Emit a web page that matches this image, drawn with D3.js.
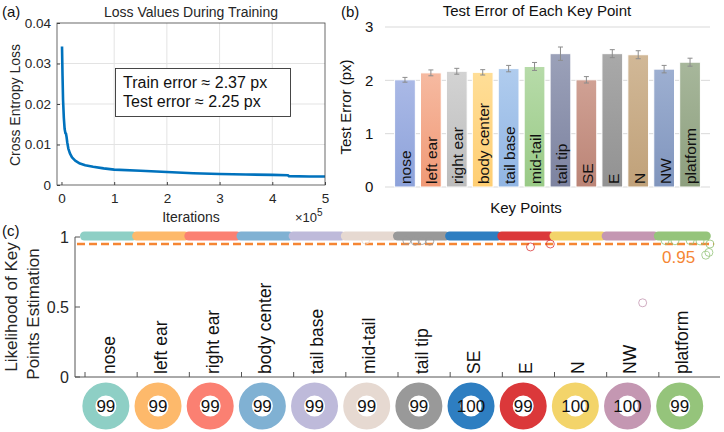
<!DOCTYPE html>
<html><head><meta charset="utf-8">
<script src="https://cdn.jsdelivr.net/npm/d3@7"></script>
<style>body{margin:0;background:#fff}svg{display:block}text{font-family:"Liberation Sans",Arial,sans-serif}</style>
</head><body>
<svg id="c" width="724" height="432"></svg>
<script>
// ---------- data ----------
const lossIter = [1000,2000,3000,4500,6000,7500,8500,9500,11000,13000,16000,20000,26000,35000,45000,60000,80000,100000,150000,200000,250000,300000,350000,400000,430000,431000,470000,500000];
const lossVal  = [0.0342,0.027,0.021,0.0165,0.0138,0.0128,0.0127,0.0120,0.0105,0.0090,0.0078,0.0068,0.0060,0.0053,0.0049,0.0045,0.0041,0.0038,0.0035,0.0032,0.0029,0.0027,0.0026,0.0025,0.0024,0.0022,0.0021,0.0021];
const lossXTicks = [0,100000,200000,300000,400000,500000];
const lossXTickLabels = ["0","1","2","3","4","5"];
const lossYTicks = [0,0.01,0.02,0.03,0.04];
const lossYTickLabels = ["0","0.01","0.02","0.03","0.04"];
const trainErrorText = "Train error \u2248 2.37 px";
const testErrorText = "Test error \u2248 2.25 px";

const keyPoints = ["nose","left ear","right ear","body center","tail base","mid-tail","tail tip","SE","E","N","NW","platform"];
const testError = [2.01,2.14,2.17,2.15,2.22,2.26,2.50,2.01,2.50,2.48,2.21,2.34];
const testErrorSE = [0.045,0.055,0.055,0.05,0.06,0.075,0.125,0.06,0.075,0.075,0.07,0.075];
const errYTicks = [0,1,2,3];

const likelihood = [1,1,1,1,1,1,1,1,1,1,1,1];
const accuracyPct = [99,99,99,99,99,99,99,100,99,100,100,99];
const threshold = 0.95;
const likeYTicks = [0,0.5,1];
const likeYTickLabels = ["0","0.5","1"];
const outlierCat = ["mid-tail","tail tip","tail tip","tail tip","tail tip","E","E","NW","platform","platform","platform","platform","platform","platform","platform"];
const outlierPos = [0.38,0.17,0.33,0.46,0.61,0.54,0.92,0.69,0.98,0.96,0.90,0.12,0.31,0.60,0.79];
const outlierVal = [0.978,0.975,0.97,0.975,0.97,0.929,0.95,0.53,0.95,0.89,0.87,0.975,0.973,0.975,0.972];

// ---------- styles ----------
const barTop    = ["#AAB9E6","#F6BAA1","#D3D3D3","#FFDE97","#B0CCEE","#B7DBA9","#9BA1B9","#D0A194","#A9A9A9","#D1B897","#9DAFD1","#A7B79B"];
const barBottom = ["#8DA2DA","#F09976","#BCBCBC","#FFCE72","#91B5E3","#99CA86","#7D83A0","#BB8476","#929292","#C0A179","#8095BD","#8D9F7E"];
const catColor  = ["#8ECFC5","#FDB96B","#FB8072","#80B1D3","#BEBADA","#E6D9D1","#999999","#2E7EC1","#DB383A","#F3D46A","#C497B2","#95C47B"];
const ink = "#262626";

const svg = d3.select("#c");

// ================= Panel (a) =================
const ax = d3.scaleLinear().domain([-8500,500000]).range([57,325]);
const ay = d3.scaleLinear().domain([0,0.04]).range([185,23]);
const ga = svg.append("g");
ga.selectAll(".gx").data(lossXTicks.slice(1,-1)).join("line")
  .attr("x1",d=>ax(d)).attr("x2",d=>ax(d)).attr("y1",ay(0)).attr("y2",ay(0.04))
  .attr("stroke","#E3E3E3").attr("stroke-width",1);
ga.selectAll(".gy").data(lossYTicks.slice(1,-1)).join("line")
  .attr("x1",57).attr("x2",325).attr("y1",d=>ay(d)).attr("y2",d=>ay(d))
  .attr("stroke","#E3E3E3").attr("stroke-width",1);
ga.append("path").datum(lossIter.map((d,i)=>[d,lossVal[i]]))
  .attr("d",d3.line().x(d=>ax(d[0])).y(d=>ay(d[1])))
  .attr("fill","none").attr("stroke","#0072BD").attr("stroke-width",2.6).attr("stroke-linejoin","round");
ga.append("rect").attr("x",57).attr("y",23).attr("width",268).attr("height",162)
  .attr("fill","none").attr("stroke","#444").attr("stroke-width",0.8);
const axB = ga.append("g").attr("transform","translate(0,185)")
  .call(d3.axisBottom(ax).tickValues(lossXTicks).tickFormat((d,i)=>lossXTickLabels[i]).tickSizeInner(-3).tickSizeOuter(0).tickPadding(8));
const axL = ga.append("g").attr("transform","translate(57,0)")
  .call(d3.axisLeft(ay).tickValues(lossYTicks).tickFormat((d,i)=>lossYTickLabels[i]).tickSizeInner(-3).tickSizeOuter(0).tickPadding(6));
[axB,axL].forEach(g=>{g.select(".domain").remove();g.selectAll("line").attr("stroke","#444");
  g.selectAll("text").attr("fill",ink).style("font-size","13.5px").style("font-family","Liberation Sans");});
ga.append("text").attr("x",191).attr("y",17).attr("text-anchor","middle").attr("fill",ink).style("font-size","14px").text("Loss Values During Training");
ga.append("text").attr("transform","translate(20,105) rotate(-90)").attr("text-anchor","middle").attr("fill",ink).style("font-size","14px").text("Cross Entropy Loss");
ga.append("text").attr("x",191).attr("y",222).attr("text-anchor","middle").attr("fill",ink).style("font-size","14px").text("Iterations");
const sx = ga.append("text").attr("x",295).attr("y",222).attr("fill",ink).style("font-size","13px");
sx.append("tspan").text("\u00d710");
sx.append("tspan").attr("dy",-6).style("font-size","10px").text("5");
ga.append("rect").attr("x",115.5).attr("y",68.5).attr("width",175).attr("height",48).attr("fill","#fff").attr("stroke","#333").attr("stroke-width",0.9);
ga.append("text").attr("x",123).attr("y",88).attr("fill","#111").style("font-size","16px").text(trainErrorText);
ga.append("text").attr("x",123).attr("y",107).attr("fill","#111").style("font-size","16px").text(testErrorText);
svg.append("text").attr("x",2).attr("y",17).attr("fill","#111").style("font-size","15px").text("(a)");

// ================= Panel (b) =================
const bx = d3.scaleBand().domain(keyPoints).range([392,703]).paddingInner(0.2).paddingOuter(0.1);
const by = d3.scaleLinear().domain([0,3]).range([187,27]);
const gb = svg.append("g");
const defs = svg.append("defs");
keyPoints.forEach((k,i)=>{
  const lg = defs.append("linearGradient").attr("id","bg"+i).attr("x1",0).attr("x2",0).attr("y1",0).attr("y2",1);
  lg.append("stop").attr("offset","0%").attr("stop-color",barTop[i]);
  lg.append("stop").attr("offset","100%").attr("stop-color",barBottom[i]);
});
gb.selectAll(".grid").data(errYTicks).join("line")
  .attr("x1",385).attr("x2",710).attr("y1",d=>by(d)).attr("y2",d=>by(d)).attr("stroke","#D9D9D9").attr("stroke-width",1);
gb.selectAll(".ytl").data(errYTicks).join("text")
  .attr("x",365).attr("y",d=>by(d)).attr("dy","0.35em").attr("fill","#111").style("font-size","15px").text(d=>d);
gb.selectAll(".bar").data(keyPoints).join("rect")
  .attr("x",d=>bx(d)).attr("width",bx.bandwidth())
  .attr("y",(d,i)=>by(testError[i])).attr("height",(d,i)=>by(0)-by(testError[i]))
  .attr("fill",(d,i)=>`url(#bg${i})`).attr("stroke","#fff").attr("stroke-width",1);
const eb = gb.selectAll(".eb").data(keyPoints).join("g").attr("stroke","#8C8C8C").attr("stroke-width",1);
eb.append("line").attr("x1",d=>bx(d)+bx.bandwidth()/2).attr("x2",d=>bx(d)+bx.bandwidth()/2)
  .attr("y1",(d,i)=>by(testError[i]+testErrorSE[i])).attr("y2",(d,i)=>by(testError[i]-testErrorSE[i]));
eb.append("line").attr("x1",d=>bx(d)+bx.bandwidth()/2-2.5).attr("x2",d=>bx(d)+bx.bandwidth()/2+2.5)
  .attr("y1",(d,i)=>by(testError[i]+testErrorSE[i])).attr("y2",(d,i)=>by(testError[i]+testErrorSE[i]));
eb.append("line").attr("x1",d=>bx(d)+bx.bandwidth()/2-2.5).attr("x2",d=>bx(d)+bx.bandwidth()/2+2.5)
  .attr("y1",(d,i)=>by(testError[i]-testErrorSE[i])).attr("y2",(d,i)=>by(testError[i]-testErrorSE[i]));
gb.selectAll(".bl").data(keyPoints).join("text")
  .attr("transform",d=>`translate(${bx(d)+bx.bandwidth()/2+1},184) rotate(-90)`)
  .attr("dy","0.35em").attr("fill","#111").style("font-size","15.5px").text(d=>d);
gb.append("text").attr("x",537).attr("y",16).attr("text-anchor","middle").attr("fill","#111").style("font-size","15px").text("Test Error of Each Key Point");
gb.append("text").attr("x",526).attr("y",213).attr("text-anchor","middle").attr("fill","#111").style("font-size","15px").text("Key Points");
gb.append("text").attr("transform","translate(351,107) rotate(-90)").attr("text-anchor","middle").attr("fill","#111").style("font-size","15px").text("Test Error (px)");
svg.append("text").attr("x",341).attr("y",17).attr("fill","#111").style("font-size","15px").text("(b)");

// ================= Panel (c) =================
const cx = d3.scaleBand().domain(keyPoints).range([85,711]);
const cy = d3.scaleLinear().domain([0,1]).range([377,237]);
const bw = cx.bandwidth();
const gc = svg.append("g");
gc.append("line").attr("x1",75).attr("x2",75).attr("y1",cy(1)).attr("y2",cy(0)).attr("stroke","#555").attr("stroke-width",1);
gc.append("line").attr("x1",75).attr("x2",720).attr("y1",cy(0)).attr("y2",cy(0)).attr("stroke","#555").attr("stroke-width",1);
gc.selectAll(".yt").data(likeYTicks).join("line").attr("x1",75).attr("x2",80).attr("y1",d=>cy(d)).attr("y2",d=>cy(d)).attr("stroke","#555");
gc.selectAll(".ytl").data(likeYTicks).join("text").attr("x",69).attr("y",d=>cy(d)).attr("dy","0.35em").attr("text-anchor","end")
  .attr("fill",ink).style("font-size","16px").text((d,i)=>likeYTickLabels[i]);
gc.selectAll(".xt").data(keyPoints).join("line").attr("x1",d=>cx(d)).attr("x2",d=>cx(d)).attr("y1",cy(0)).attr("y2",cy(0)-5).attr("stroke","#555");
gc.selectAll(".cl").data(keyPoints).join("text")
  .attr("transform",d=>`translate(${cx(d)+bw*0.45},374) rotate(-90)`).attr("dy","0.35em")
  .attr("fill","#111").style("font-size","17.5px").text(d=>d);
gc.append("line").attr("x1",77).attr("x2",714).attr("y1",cy(threshold)).attr("y2",cy(threshold))
  .attr("stroke","#F58634").attr("stroke-width",2.5).attr("stroke-dasharray","8,4");
gc.append("text").attr("x",662).attr("y",cy(threshold)+13).attr("dy","0.35em").attr("fill","#F58634").style("font-size","17px").text(threshold.toFixed(2));
gc.selectAll(".strip").data(keyPoints).join("line")
  .attr("x1",d=>cx(d)+bw*0.45-24).attr("x2",d=>cx(d)+bw*0.45+24)
  .attr("y1",(d,i)=>cy(likelihood[i])-1).attr("y2",(d,i)=>cy(likelihood[i])-1)
  .attr("stroke",(d,i)=>catColor[i]).attr("stroke-width",9).attr("stroke-linecap","round");
gc.selectAll(".out").data(outlierCat).join("circle")
  .attr("cx",(d,i)=>cx(d)+outlierPos[i]*bw).attr("cy",(d,i)=>cy(outlierVal[i])).attr("r",4)
  .attr("fill","none").attr("stroke",d=>catColor[keyPoints.indexOf(d)]).attr("stroke-opacity",0.8).attr("stroke-width",1);
// donuts (full rings, value printed in the centre)
const arc = d3.arc().innerRadius(10.5).outerRadius(23.5);
const dg = gc.selectAll(".donut").data(keyPoints).join("g")
  .attr("transform",d=>`translate(${cx(d)+bw*0.4},406)`);
dg.append("path").attr("d",arc({startAngle:0,endAngle:2*Math.PI})).attr("fill",(d,i)=>catColor[i]);
dg.append("text").attr("text-anchor","middle").attr("dy","0.36em").attr("fill","#111").style("font-size","17px").text((d,i)=>accuracyPct[i]);
gc.append("text").attr("transform","translate(11,307) rotate(-90)").attr("text-anchor","middle").attr("dy","0.35em").attr("fill",ink).style("font-size","17px").text("Likelihood of Key");
gc.append("text").attr("transform","translate(33,314) rotate(-90)").attr("text-anchor","middle").attr("dy","0.35em").attr("fill",ink).style("font-size","17px").text("Points Estimation");
svg.append("text").attr("x",2).attr("y",236).attr("fill","#111").style("font-size","15px").text("(c)");
</script>
</body></html>
